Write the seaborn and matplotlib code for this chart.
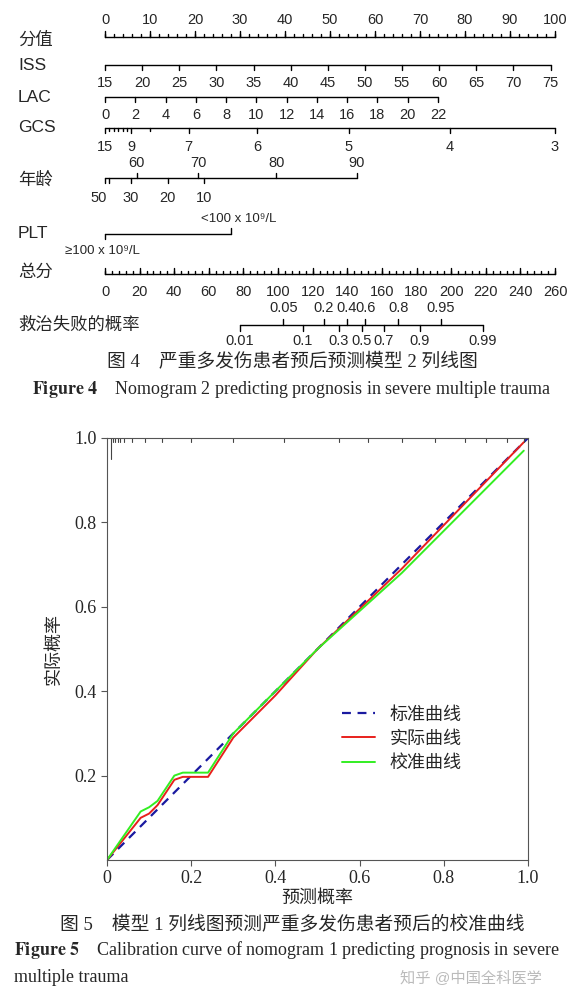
import numpy as np
import pandas as pd
import matplotlib
matplotlib.use("Agg")
import matplotlib.pyplot as plt
import seaborn as sns

sns.set_style("white")
plt.rcParams['font.family'] = ['Liberation Sans', 'Noto Sans CJK SC', 'DejaVu Sans']
plt.rcParams['mathtext.fontset'] = 'stix'

# ---- nomogram data (position on 0-100 points scale) ----
points_ticks = list(range(0, 101, 10))
iss_vals = list(range(15, 80, 5))
iss_pos = [(v - 15) / 60 * 99 for v in iss_vals]
lac_vals = list(range(0, 23, 2))
lac_pos = [v / 22 * 74 for v in lac_vals]
gcs_labels = ['15', '9', '7', '6', '5', '4', '3']
gcs_pos = [0, 5.8, 18.6, 33.8, 54.2, 76.6, 100]
gcs_minor = [0.9, 1.9, 2.9, 3.9, 4.9, 10]
age_up_labels = ['60', '70', '80', '90']
age_up_pos = [7, 20.7, 38.1, 56]
age_dn_labels = ['50', '30', '20', '10']
age_dn_pos = [0, 5.7, 13.9, 22]
plt_labels = ['<100 x 10⁹/L', '≥100 x 10⁹/L']
plt_pos = [28.1, 0]
total_vals = list(range(0, 261, 20))
prob_up = ['0.05', '0.2', '0.4', '0.6', '0.8', '0.95']
prob_up_pos = [39.6, 48.6, 53.7, 57.8, 65.2, 74.6]
prob_dn = ['0.01', '0.1', '0.3', '0.5', '0.7', '0.9', '0.99']
prob_dn_pos = [29.9, 44, 51.9, 57, 61.9, 69.9, 84]

# ---- calibration data ----
ideal_x = [0, 1]
actual_x = [0, 0.08, 0.1, 0.12, 0.16, 0.18, 0.24, 0.3, 0.4, 0.5, 0.7, 0.99]
actual_y = [0, 0.10, 0.11, 0.13, 0.19, 0.197, 0.197, 0.29, 0.39, 0.5, 0.69, 0.99]
corr_x = [0, 0.08, 0.1, 0.12, 0.16, 0.18, 0.24, 0.3, 0.4, 0.5, 0.7, 0.99]
corr_y = [0, 0.115, 0.125, 0.14, 0.2, 0.207, 0.207, 0.3, 0.4, 0.5, 0.68, 0.97]
rug_x = [0.01, 0.015, 0.02, 0.025, 0.03, 0.04, 0.06, 0.09, 0.13, 0.2, 0.3, 0.42, 0.55, 0.62, 0.7, 0.78, 0.85, 0.9, 0.95, 0.99]

W, H = 584, 1007
fig = plt.figure(figsize=(W / 100, H / 100), dpi=100)

# nomogram axes: x in points, y in pixels
nom = fig.add_axes([0, 1 - 400 / H, 1, 400 / H])
nom.set_xlim(-105 / 4.5, (W - 105) / 4.5)
nom.set_ylim(400, 0)
nom.axis('off')
lw = 1.0
fs = 10.5

def hline(y, x0, x1):
    nom.plot([x0, x1], [y, y], color='black', lw=lw)

def ticks(y, xs, d):
    for x in xs:
        nom.plot([x, x], [y, y + d], color='black', lw=lw)

def labels(y, xs, ts, size=fs):
    for x, t in zip(xs, ts):
        nom.text(x, y, t, ha='center', va='center', fontsize=size)

rows = [('分值', 40), ('ISS', 65), ('LAC', 97), ('GCS', 128), ('年龄', 180),
        ('PLT', 234), ('总分', 272), ('救治失败的概率', 325)]
for name, y in rows:
    nom.text(-105 / 4.5 + 18 / 4.5, y, name, ha='left', va='center', fontsize=12.5)

# points
hline(37, 0, 100)
ticks(37, points_ticks, -6)
ticks(37, np.arange(0, 101, 2), -3)
labels(20, points_ticks, [str(v) for v in points_ticks])
# ISS
hline(65, 0, 99)
ticks(65, iss_pos, 5)
labels(83, iss_pos, [str(v) for v in iss_vals])
# LAC
hline(97, 0, 74)
ticks(97, lac_pos, 5)
labels(115, lac_pos, [str(v) for v in lac_vals])
# GCS
hline(128, 0, 100)
ticks(128, gcs_pos, 5)
ticks(128, gcs_minor, 3)
labels(147, gcs_pos, gcs_labels)
# age
hline(178, 0, 56)
ticks(178, age_up_pos, -5)
ticks(178, age_dn_pos + [0.8], 5)
labels(163, age_up_pos, age_up_labels)
labels(198, [age_dn_pos[0] - 1.5] + age_dn_pos[1:], age_dn_labels)
# PLT
hline(234, plt_pos[1], plt_pos[0])
ticks(234, [plt_pos[0]], -6)
ticks(234, [plt_pos[1]], 5)
labels(219, [plt_pos[0] + 1.5], [plt_labels[0]], 9.5)
labels(251, [plt_pos[1] - 0.5], [plt_labels[1]], 9.5)
# total
tot_pos = [v / 260 * 100 for v in total_vals]
hline(274, 0, 100)
ticks(274, tot_pos, -6)
ticks(274, [v / 260 * 100 for v in range(0, 261, 4)], -3)
labels(292, tot_pos, [str(v) for v in total_vals])
# probability
hline(325, prob_dn_pos[0], prob_dn_pos[-1])
ticks(325, prob_up_pos, -6)
ticks(325, prob_dn_pos, 6)
labels(308, prob_up_pos, prob_up)
labels(341, prob_dn_pos, prob_dn)

serif = ['Liberation Serif', 'Noto Sans CJK SC']
fig.text(0.5, 1 - 362 / H, '图 4    严重多发伤患者预后预测模型 2 列线图', ha='center', va='center',
         fontsize=13.5, family=serif)
fig.text(0.5, 1 - 389 / H, r'$\mathbf{Figure\ 4}$    Nomogram 2 predicting prognosis in severe multiple trauma',
         ha='center', va='center', fontsize=13, family=serif)

# ---- calibration ----
ax = fig.add_axes([107 / W, 1 - 860 / H, 421 / W, 422 / H])
sns.lineplot(x=ideal_x, y=ideal_x, ax=ax, color='#1a1aa0', lw=1.6, linestyle=(0, (4, 3)), label='标准曲线')
sns.lineplot(x=actual_x, y=actual_y, ax=ax, color='#e8201c', lw=1.4, label='实际曲线', sort=False)
sns.lineplot(x=corr_x, y=corr_y, ax=ax, color='#33ee22', lw=1.4, label='校准曲线', sort=False)
for i, r in enumerate(rug_x):
    ax.plot([r, r], [1.0, 0.95 if i == 0 else 0.99], color='#444444', lw=0.8)
ax.set_xlim(0, 1)
ax.set_ylim(0, 1)
ax.set_xticks([0, 0.2, 0.4, 0.6, 0.8, 1.0])
ax.set_xticklabels(['0', '0.2', '0.4', '0.6', '0.8', '1.0'], family=serif, fontsize=13)
ax.set_yticks([0.2, 0.4, 0.6, 0.8, 1.0])
ax.set_yticklabels(['0.2', '0.4', '0.6', '0.8', '1.0'], family=serif, fontsize=13)
ax.tick_params(direction='out', length=4, color='#555555', left=True, bottom=True)
for s in ax.spines.values():
    s.set_color('#555555')
ax.set_xlabel('预测概率', fontsize=13, family=serif, labelpad=2)
ax.set_ylabel('实际概率', fontsize=13, family=serif, labelpad=8)
leg = ax.legend(loc='lower right', bbox_to_anchor=(0.88, 0.17), frameon=False, fontsize=13,
                handlelength=1.8, labelspacing=0.4)
for t in leg.get_texts():
    t.set_family(serif)

fig.text(0.5, 1 - 925 / H, '图 5    模型 1 列线图预测严重多发伤患者预后的校准曲线', ha='center', va='center',
         fontsize=13.5, family=serif)
fig.text(14 / W, 1 - 950 / H, r'$\mathbf{Figure\ 5}$    Calibration curve of nomogram 1 predicting prognosis in severe',
         ha='left', va='center', fontsize=13, family=serif)
fig.text(14 / W, 1 - 978 / H, 'multiple trauma', ha='left', va='center', fontsize=13, family=serif)
fig.text(400 / W, 1 - 978 / H, '知乎 @中国全科医学', ha='left', va='center', fontsize=11, color='#bbbbbb')

fig.savefig('out.png', dpi=100)
